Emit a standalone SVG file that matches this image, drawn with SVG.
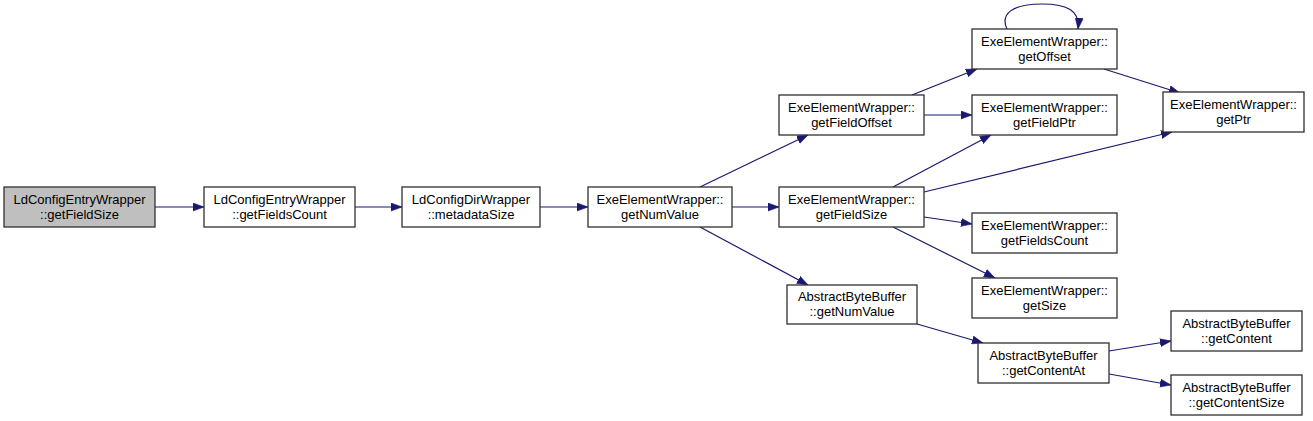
<svg xmlns="http://www.w3.org/2000/svg" width="1313" height="421" viewBox="0 0 1313 421">
<defs>
<marker id="ah" markerUnits="userSpaceOnUse" markerWidth="12" markerHeight="9" refX="11" refY="4.5" orient="auto">
<path d="M0,0.5 L11,4.5 L0,8.5 z" fill="#191970" stroke="#191970" stroke-width="0.6"/>
</marker>
<style>
.n rect{fill:#ffffff;stroke:#303030;stroke-width:1.3}
.n.root rect{fill:#bfbfbf}
.n text{font-family:"Liberation Sans",Arial,sans-serif;font-size:13px;fill:#000;text-anchor:middle}
.e path{fill:none;stroke:#191970;stroke-width:1.2;marker-end:url(#ah)}
</style>
</defs>
<rect width="1313" height="421" fill="#ffffff"/>
<g id="edges" class="e">
<path d="M155,207 L204,207"/>
<path d="M355,207 L402,207"/>
<path d="M540,207 L588,207"/>
<path d="M700,187 L808,135"/>
<path d="M732,207 L779,207"/>
<path d="M700,227 L808,285"/>
<path d="M912,95 L977,69"/>
<path d="M924,115 L972,115"/>
<path d="M893,187 L991,135"/>
<path d="M924,192 L1172,132"/>
<path d="M924,217 L972,224"/>
<path d="M893,227 L995,278"/>
<path d="M1104,69 L1180,93"/>
<path d="M1007,29 C1000,14 1012,4 1042,4 C1068,4 1080,11 1078,29"/>
<path d="M917,324 L983,343"/>
<path d="M1109,351 L1171,341"/>
<path d="M1109,374 L1171,385"/>
</g>
<g id="n1" class="n root"><rect x="4" y="187" width="151" height="40"/><text x="79.5" y="204">LdConfigEntryWrapper</text><text x="79.5" y="219">::getFieldSize</text></g>
<g id="n2" class="n"><rect x="204" y="187" width="151" height="40"/><text x="279.5" y="204">LdConfigEntryWrapper</text><text x="279.5" y="219">::getFieldsCount</text></g>
<g id="n3" class="n"><rect x="402" y="187" width="138" height="40"/><text x="471" y="204">LdConfigDirWrapper</text><text x="471" y="219">::metadataSize</text></g>
<g id="n4" class="n"><rect x="588" y="187" width="144" height="40"/><text x="660" y="204">ExeElementWrapper::</text><text x="660" y="219">getNumValue</text></g>
<g id="n5" class="n"><rect x="779" y="95" width="145" height="40"/><text x="851.5" y="112">ExeElementWrapper::</text><text x="851.5" y="127">getFieldOffset</text></g>
<g id="n6" class="n"><rect x="779" y="187" width="145" height="40"/><text x="851.5" y="204">ExeElementWrapper::</text><text x="851.5" y="219">getFieldSize</text></g>
<g id="n7" class="n"><rect x="787" y="285" width="130" height="39"/><text x="852" y="301">AbstractByteBuffer</text><text x="852" y="316">::getNumValue</text></g>
<g id="n8" class="n"><rect x="972" y="29" width="145" height="40"/><text x="1044.5" y="46">ExeElementWrapper::</text><text x="1044.5" y="61">getOffset</text></g>
<g id="n9" class="n"><rect x="972" y="95" width="145" height="40"/><text x="1044.5" y="112">ExeElementWrapper::</text><text x="1044.5" y="127">getFieldPtr</text></g>
<g id="n10" class="n"><rect x="972" y="213" width="145" height="40"/><text x="1044.5" y="230">ExeElementWrapper::</text><text x="1044.5" y="245">getFieldsCount</text></g>
<g id="n11" class="n"><rect x="972" y="278" width="145" height="40"/><text x="1044.5" y="295">ExeElementWrapper::</text><text x="1044.5" y="310">getSize</text></g>
<g id="n12" class="n"><rect x="1163" y="92" width="141" height="40"/><text x="1233.5" y="109">ExeElementWrapper::</text><text x="1233.5" y="124">getPtr</text></g>
<g id="n13" class="n"><rect x="978" y="343" width="131" height="40"/><text x="1043.5" y="360">AbstractByteBuffer</text><text x="1043.5" y="375">::getContentAt</text></g>
<g id="n14" class="n"><rect x="1171" y="311" width="131" height="40"/><text x="1236.5" y="328">AbstractByteBuffer</text><text x="1236.5" y="343">::getContent</text></g>
<g id="n15" class="n"><rect x="1171" y="375" width="131" height="40"/><text x="1236.5" y="392">AbstractByteBuffer</text><text x="1236.5" y="407">::getContentSize</text></g>
</svg>
